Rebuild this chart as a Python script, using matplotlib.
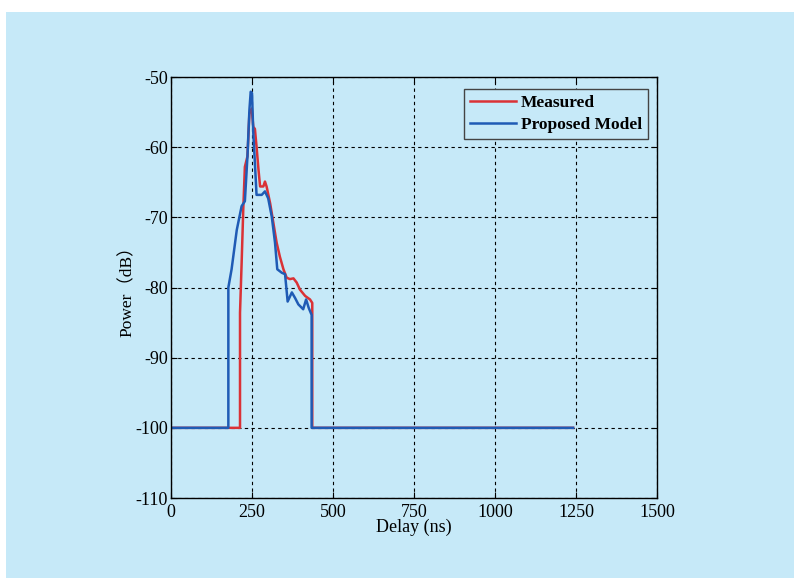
import numpy as np
import matplotlib
matplotlib.use("Agg")
import matplotlib.pyplot as plt
from matplotlib.patches import Rectangle

FS = 13
BG = '#C6E9F8'
matplotlib.rcParams['axes.unicode_minus'] = False
matplotlib.rcParams['font.family'] = ['Liberation Serif', 'Noto Sans CJK SC']

# measured power delay profile
delay_meas = [0, 213, 213, 218, 223, 228, 236, 242, 249, 254, 259, 264, 270, 275, 285, 290,
              295, 306, 316, 326, 336, 347, 357, 367, 378, 388, 398, 414, 429, 436, 436, 436, 1241]
power_meas = [-100, -100, -83.6, -76.5, -68.9, -62.8, -61.3, -55.2, -54.5, -57.1, -57.4, -59.9,
              -63.2, -65.6, -65.6, -64.9, -65.6, -68, -70.8, -73.6, -75.6, -77.4, -78.6, -78.8,
              -78.7, -79.3, -80.3, -81.2, -81.7, -82.2, -83.9, -100, -100]

# proposed model
delay_model = [0, 177, 177, 187, 203, 218, 228, 236, 242, 246, 250, 254, 259, 264, 280, 290,
               300, 311, 321, 328, 342, 352, 360, 373, 383, 393, 408, 417, 425, 434, 434, 1241]
power_model = [-100, -100, -80, -77.4, -71.8, -68.4, -67.7, -61.3, -54.7, -52.1, -52.3, -58,
               -62.3, -66.8, -66.8, -66.3, -67.3, -69.9, -73.6, -77.4, -77.9, -78.1, -82, -80.7,
               -81.5, -82.4, -83.1, -81.7, -82.9, -83.9, -100, -100]

xticks = [0, 250, 500, 750, 1000, 1250, 1500]
yticks = [-110, -100, -90, -80, -70, -60, -50]

fig = plt.figure(figsize=(7.94, 5.78), dpi=100)
fig.patch.set_facecolor('white')
fig.patches.append(Rectangle((6/794, 0), 1 - 6/794, 1 - 12/578, transform=fig.transFigure,
                             facecolor=BG, edgecolor='none', zorder=-10))

ax = fig.add_axes([171/794, 1 - 498/578, (657-171)/794, (498-77)/578])
ax.set_facecolor(BG)

ax.plot(delay_meas, power_meas, color='#DA3236', linewidth=1.8, label='Measured')
ax.plot(delay_model, power_model, color='#1F5BB5', linewidth=1.8, label='Proposed Model')

ax.set_xlim(0, 1500)
ax.set_ylim(-110, -50)
ax.set_xticks(xticks)
ax.set_yticks(yticks)
ax.set_xticklabels([str(v) for v in xticks], fontsize=FS)
ax.set_yticklabels([str(v) for v in yticks], fontsize=FS)
ax.tick_params(direction='in', length=4, width=0.8, top=True, right=True)
ax.tick_params(axis='x', pad=4)
ax.tick_params(axis='y', pad=2)
ax.grid(True, color='black', linestyle=(0, (3, 3)), linewidth=0.8)
for s in ax.spines.values():
    s.set_linewidth(1.0)

ax.set_xlabel('Delay (ns)', fontsize=FS, labelpad=-1)
ax.set_ylabel('Power（dB）', fontsize=12.5, labelpad=0)

leg = ax.legend(loc='upper right', bbox_to_anchor=(1 - 9/486, 1 - 12/421), borderaxespad=0,
                prop={'family': 'Liberation Serif', 'size': 12.5, 'weight': 'bold'},
                fancybox=False, framealpha=1, facecolor=BG, edgecolor='#444444',
                handlelength=2.6, handletextpad=0.3, borderpad=0.35, labelspacing=0.3)
leg.get_frame().set_linewidth(1.0)

plt.savefig('out.png', dpi=100)
